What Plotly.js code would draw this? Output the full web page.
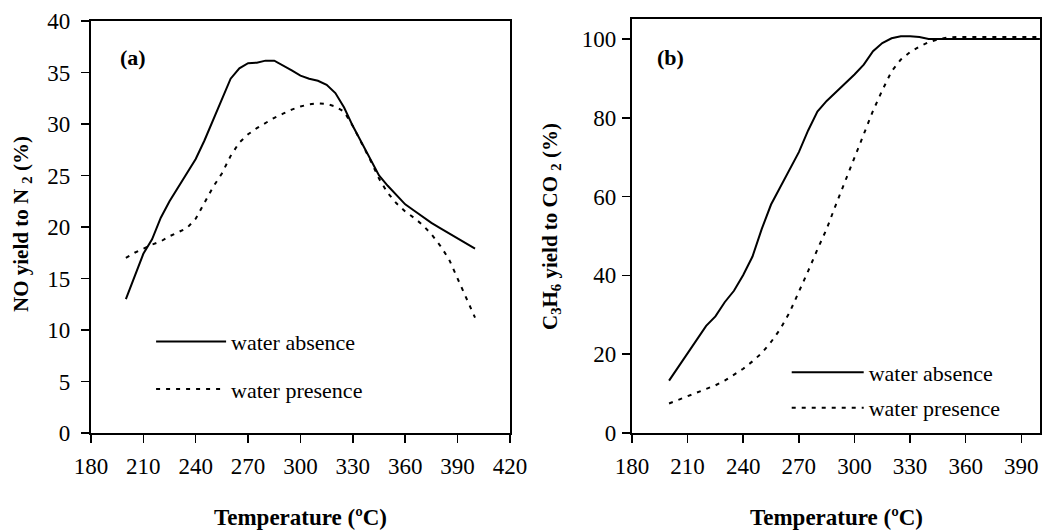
<!DOCTYPE html>
<html>
<head>
<meta charset="utf-8">
<script src="https://cdn.plot.ly/plotly-3.0.1.min.js"></script>
<style>html,body{margin:0;padding:0;background:#fff;}</style>
</head>
<body>
<div id="chart" style="width:1042px;height:530px;"></div>
<script>
const temps = [200,205,210,215,220,225,230,235,240,245,250,255,260,265,270,275,280,285,290,295,300,305,310,315,320,325,330,335,340,345,350,355,360,365,370,375,380,385,390,395,400];

const noAbsence = [13.0,15.3,17.4,18.8,20.9,22.5,23.9,25.2,26.6,28.4,30.4,32.3,34.4,35.4,35.9,35.95,36.15,36.15,35.7,35.2,34.7,34.4,34.2,33.8,33.0,31.6,29.8,28.2,26.7,25.0,24.0,23.1,22.2,21.6,21.0,20.4,19.9,19.4,18.9,18.4,17.9];
const noPresence = [17.0,17.5,17.9,18.3,18.6,19.1,19.5,19.9,20.8,22.3,23.9,25.2,26.9,28.2,29.0,29.6,30.1,30.6,31.0,31.4,31.7,31.9,32.0,31.95,31.7,31.2,29.8,28.2,26.5,24.7,23.3,22.3,21.5,20.9,20.2,19.3,18.2,16.9,15.0,13.0,11.2];

const c3Absence = [13.3,16.8,20.4,23.7,27.2,29.6,33.2,36.1,40.1,44.8,51.8,58.0,62.4,66.8,71.3,76.8,81.6,84.3,86.5,88.9,91.0,93.5,96.9,99.0,100.2,100.7,100.7,100.5,100.0,100.0,100.0,100.0,100.0,100.0,100.0,100.0,100.0,100.0,100.0,100.0,100.0];
const c3Presence = [7.5,8.4,9.3,10.1,11.0,12.1,13.3,14.8,16.3,18.2,20.3,23.1,26.4,30.6,35.7,41.1,46.6,51.8,58.0,64.0,69.7,75.6,81.8,87.0,91.8,94.8,96.7,98.1,99.2,99.9,100.4,100.5,100.5,100.5,100.5,100.5,100.5,100.5,100.5,100.5,100.5];

const seriesNames = ['water absence','water presence'];
const xTicksA = [180,210,240,270,300,330,360,390,420];
const yTicksA = [0,5,10,15,20,25,30,35,40];
const xTicksB = [180,210,240,270,300,330,360,390];
const yTicksB = [0,20,40,60,80,100];

const FONT = 'Liberation Serif';
const solid = {color:'#000', width:2, dash:'solid'};
const dashed = {color:'#000', width:2, dash:'4px,6px'};

const traces = [
  {x:temps, y:noAbsence, name:seriesNames[0], mode:'lines', line:solid, xaxis:'x', yaxis:'y', legend:'legend', legendgroup:'a1'},
  {x:temps, y:noPresence, name:seriesNames[1], mode:'lines', line:dashed, xaxis:'x', yaxis:'y', legend:'legend', legendgroup:'a2'},
  {x:temps, y:c3Absence, name:seriesNames[0], mode:'lines', line:solid, xaxis:'x2', yaxis:'y2', legend:'legend2', legendgroup:'b1'},
  {x:temps, y:c3Presence, name:seriesNames[1], mode:'lines', line:dashed, xaxis:'x2', yaxis:'y2', legend:'legend2', legendgroup:'b2'}
];

function axisBase() {
  return {
    showgrid:false, zeroline:false, showline:true, mirror:true, linecolor:'#000', linewidth:2,
    ticks:'outside', ticklen:8, tickwidth:1.5, tickcolor:'#000',
    tickfont:{family:FONT, size:23, color:'#000'}, tickmode:'array'
  };
}

const layout = {
  width:1042, height:530,
  margin:{l:0, r:0, t:0, b:0},
  paper_bgcolor:'#fff', plot_bgcolor:'#fff',
  font:{family:FONT, size:22, color:'#000'},
  xaxis: Object.assign(axisBase(), {domain:[0.0873,0.4894], range:[180,420], tickvals:xTicksA, ticktext:xTicksA.map(String), ticklabelstandoff:3, anchor:'y'}),
  yaxis: Object.assign(axisBase(), {domain:[0.183,0.9604], range:[0,40], tickvals:yTicksA, ticktext:yTicksA.map(String), ticklabelstandoff:6, anchor:'x'}),
  xaxis2: Object.assign(axisBase(), {domain:[0.6065,0.998], range:[180,400], tickvals:xTicksB, ticktext:xTicksB.map(String), ticklabelstandoff:3, anchor:'y2'}),
  yaxis2: Object.assign(axisBase(), {domain:[0.183,0.9642], range:[0,105.1], tickvals:yTicksB, ticktext:yTicksB.map(String), ticklabelstandoff:1, anchor:'x2'}),
  legend: {x:0.145, y:0.395, xanchor:'left', yanchor:'top', bgcolor:'rgba(0,0,0,0)', font:{family:FONT, size:22, color:'#000'}, itemwidth:70, tracegroupgap:16},
  legend2: {x:0.755, y:0.337, xanchor:'left', yanchor:'top', bgcolor:'rgba(0,0,0,0)', font:{family:FONT, size:22, color:'#000'}, itemwidth:72, tracegroupgap:4},
  annotations:[
    {xref:'paper', yref:'paper', x:300/1042, y:1-517/530, xanchor:'center', yanchor:'middle', text:'<b>Temperature (ºC)</b>', showarrow:false, font:{family:FONT, size:23, color:'#000'}},
    {xref:'paper', yref:'paper', x:836/1042, y:1-517/530, xanchor:'center', yanchor:'middle', text:'<b>Temperature (ºC)</b>', showarrow:false, font:{family:FONT, size:23, color:'#000'}},
    {xref:'paper', yref:'paper', x:22/1042, y:1-224/530, xanchor:'center', yanchor:'middle', text:'<b>NO yield to N <sub>2</sub> (%)</b>', textangle:-90, showarrow:false, font:{family:FONT, size:21, color:'#000'}},
    {xref:'paper', yref:'paper', x:551/1042, y:1-227/530, xanchor:'center', yanchor:'middle', text:'<b>C<sub>3</sub>H<sub>6</sub> yield to CO <sub>2</sub> (%)</b>', textangle:-90, showarrow:false, font:{family:FONT, size:21, color:'#000'}},
    {xref:'paper', yref:'paper', x:133/1042, y:1-58/530, xanchor:'center', yanchor:'middle', text:'<b>(a)</b>', showarrow:false, font:{family:FONT, size:22, color:'#000'}},
    {xref:'paper', yref:'paper', x:670/1042, y:1-58/530, xanchor:'center', yanchor:'middle', text:'<b>(b)</b>', showarrow:false, font:{family:FONT, size:22, color:'#000'}}
  ]
};

Plotly.newPlot('chart', traces, layout, {staticPlot:true, displayModeBar:false});
</script>
</body>
</html>
